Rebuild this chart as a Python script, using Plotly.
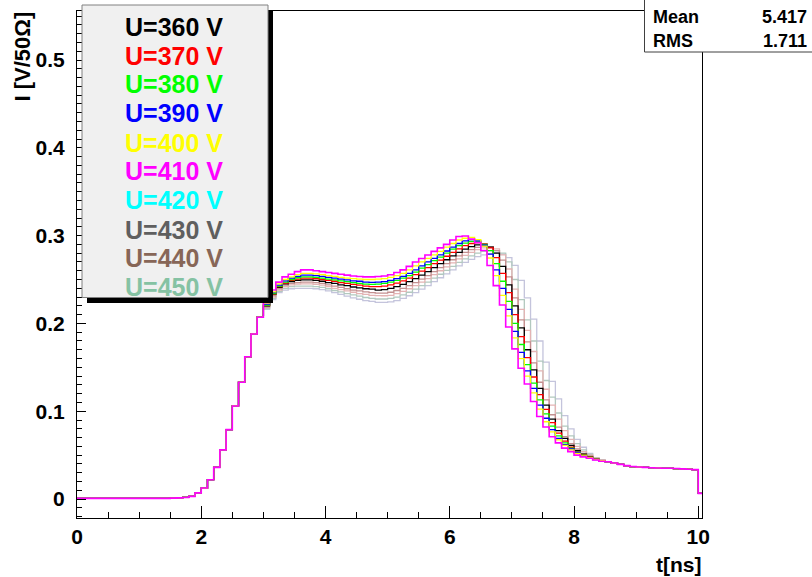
import numpy as np
import plotly.graph_objects as go

# ---------------- data ----------------
VOLTAGES = ["U=360 V", "U=370 V", "U=380 V", "U=390 V", "U=400 V",
            "U=410 V", "U=420 V", "U=430 V", "U=440 V", "U=450 V"]
LEGEND_COLORS = ["#000000", "#ff0000", "#00ff00", "#0000ff", "#ffff00",
                 "#ff00ff", "#00ffff", "#5f5f5f", "#876657", "#85c2a3"]
LINE_COLORS = ["#000000", "#ff0000", "#00ff00", "#0000ff", "#ffff00",
               "#ff00ff", "#c4c4dc", "#c39090", "#e4b4b4", "#b2c9bf"]

BIN_WIDTH = 0.1  # ns

# common rise, bins 0.0 .. 3.0 ns
RISE = [0.0008, 0.0008, 0.0008, 0.0008, 0.0008, 0.0008, 0.0008, 0.0008, 0.0008, 0.0008,
        0.0008, 0.0008, 0.0008, 0.0008, 0.0008, 0.0010, 0.0013, 0.0018, 0.003, 0.007,
        0.0125, 0.022, 0.036, 0.056, 0.079, 0.106, 0.133, 0.162, 0.188, 0.207]

# per-voltage values, bins 3.0 .. 8.5 ns
MID_360 = [0.220, 0.233, 0.241, 0.245, 0.2475, 0.249, 0.2495, 0.2495, 0.249, 0.248,
           0.2465, 0.2455, 0.244, 0.243, 0.2415, 0.2405, 0.2395, 0.239, 0.238, 0.2385,
           0.240, 0.242, 0.2445, 0.2475, 0.251, 0.255, 0.259, 0.2635, 0.268, 0.2725,
           0.277, 0.281, 0.2845, 0.2875, 0.2895, 0.290, 0.287, 0.280, 0.265, 0.244,
           0.220, 0.195, 0.170, 0.147, 0.126, 0.107, 0.091, 0.078, 0.069, 0.061,
           0.055, 0.051, 0.048, 0.0455, 0.0438]
MID_370 = [0.2205, 0.2335, 0.242, 0.246, 0.249, 0.2505, 0.2515, 0.2515, 0.251, 0.250,
           0.249, 0.248, 0.2465, 0.2455, 0.2445, 0.2435, 0.2425, 0.242, 0.2418, 0.2425,
           0.244, 0.246, 0.2485, 0.2515, 0.2555, 0.2595, 0.2635, 0.268, 0.272, 0.2765,
           0.281, 0.285, 0.2885, 0.291, 0.292, 0.2905, 0.286, 0.275, 0.257, 0.235,
           0.210, 0.185, 0.161, 0.139, 0.119, 0.102, 0.087, 0.075, 0.066, 0.059,
           0.054, 0.0505, 0.0478, 0.0455, 0.0437]
MID_380 = [0.221, 0.234, 0.2425, 0.247, 0.250, 0.252, 0.253, 0.253, 0.2525, 0.2515,
           0.2505, 0.2495, 0.2485, 0.2475, 0.2465, 0.2455, 0.2448, 0.2445, 0.2448, 0.2455,
           0.247, 0.249, 0.2515, 0.2545, 0.2585, 0.263, 0.267, 0.2715, 0.2755, 0.280,
           0.2845, 0.2885, 0.2915, 0.2935, 0.2935, 0.290, 0.283, 0.268, 0.248, 0.225,
           0.200, 0.176, 0.153, 0.132, 0.113, 0.097, 0.083, 0.072, 0.064, 0.058,
           0.0535, 0.050, 0.0475, 0.0452, 0.0436]
MID_390 = [0.222, 0.235, 0.2435, 0.2485, 0.2515, 0.2535, 0.255, 0.255, 0.2545, 0.2535,
           0.2525, 0.2515, 0.2505, 0.2495, 0.2485, 0.248, 0.247, 0.2468, 0.247, 0.2475,
           0.249, 0.251, 0.2535, 0.257, 0.261, 0.2655, 0.270, 0.274, 0.278, 0.2825,
           0.287, 0.291, 0.294, 0.2955, 0.294, 0.289, 0.279, 0.261, 0.240, 0.216,
           0.191, 0.167, 0.146, 0.126, 0.107, 0.092, 0.079, 0.069, 0.062, 0.057,
           0.053, 0.0495, 0.0472, 0.0450, 0.0435]
MID_400 = [0.223, 0.236, 0.245, 0.250, 0.253, 0.2555, 0.257, 0.257, 0.2565, 0.2555,
           0.2545, 0.2535, 0.2525, 0.2515, 0.251, 0.2505, 0.250, 0.250, 0.2505, 0.251,
           0.2525, 0.2545, 0.257, 0.261, 0.2655, 0.270, 0.274, 0.278, 0.282, 0.287,
           0.291, 0.295, 0.297, 0.298, 0.2955, 0.288, 0.2745, 0.2545, 0.232, 0.2085,
           0.1835, 0.160, 0.140, 0.121, 0.1025, 0.088, 0.0765, 0.0675, 0.061, 0.056,
           0.052, 0.049, 0.047, 0.0452, 0.0436]
MID_410 = [0.224, 0.238, 0.247, 0.253, 0.256, 0.259, 0.261, 0.261, 0.260, 0.259,
           0.258, 0.257, 0.256, 0.255, 0.254, 0.2535, 0.253, 0.253, 0.2535, 0.254,
           0.2555, 0.258, 0.261, 0.265, 0.270, 0.274, 0.278, 0.282, 0.286, 0.290,
           0.295, 0.299, 0.2995, 0.296, 0.292, 0.283, 0.266, 0.243, 0.221, 0.196,
           0.171, 0.149, 0.131, 0.111, 0.094, 0.082, 0.071, 0.064, 0.058, 0.054,
           0.050, 0.048, 0.0465, 0.0445, 0.043]
MID_420 = [0.216, 0.227, 0.235, 0.238, 0.2395, 0.240, 0.240, 0.240, 0.2395, 0.2385,
           0.237, 0.235, 0.233, 0.231, 0.229, 0.2275, 0.226, 0.225, 0.224, 0.224,
           0.2245, 0.226, 0.2285, 0.2315, 0.235, 0.239, 0.243, 0.2475, 0.252, 0.2565,
           0.261, 0.2655, 0.2695, 0.273, 0.276, 0.278, 0.2795, 0.2805, 0.279, 0.275,
           0.266, 0.249, 0.229, 0.205, 0.180, 0.156, 0.134, 0.114, 0.095, 0.080,
           0.068, 0.059, 0.052, 0.047, 0.0445]
MID_430 = [0.219, 0.2315, 0.2395, 0.2435, 0.2455, 0.2465, 0.247, 0.247, 0.2465, 0.2455,
           0.244, 0.2425, 0.241, 0.2395, 0.238, 0.237, 0.236, 0.235, 0.2345, 0.2345,
           0.2355, 0.2375, 0.240, 0.243, 0.2465, 0.2505, 0.2545, 0.259, 0.2635, 0.268,
           0.2725, 0.277, 0.281, 0.284, 0.2865, 0.288, 0.2875, 0.283, 0.272, 0.253,
           0.229, 0.204, 0.179, 0.155, 0.133, 0.113, 0.096, 0.082, 0.071, 0.063,
           0.057, 0.052, 0.049, 0.046, 0.0440]
MID_440 = [0.218, 0.230, 0.238, 0.242, 0.244, 0.2448, 0.245, 0.245, 0.2445, 0.2435,
           0.242, 0.240, 0.2385, 0.237, 0.2355, 0.234, 0.233, 0.232, 0.2316, 0.2315,
           0.232, 0.234, 0.2365, 0.2395, 0.243, 0.247, 0.251, 0.2555, 0.260, 0.2645,
           0.269, 0.2735, 0.2775, 0.281, 0.284, 0.286, 0.2865, 0.285, 0.278, 0.262,
           0.239, 0.216, 0.192, 0.168, 0.146, 0.125, 0.107, 0.091, 0.078, 0.068,
           0.060, 0.054, 0.050, 0.0465, 0.0442]
MID_450 = [0.217, 0.2285, 0.2365, 0.240, 0.242, 0.2425, 0.2425, 0.2425, 0.242, 0.241,
           0.2395, 0.2375, 0.236, 0.234, 0.2325, 0.231, 0.2295, 0.2285, 0.2278, 0.2278,
           0.2285, 0.230, 0.2325, 0.2355, 0.239, 0.243, 0.247, 0.2515, 0.256, 0.2605,
           0.265, 0.2695, 0.2735, 0.277, 0.280, 0.282, 0.283, 0.283, 0.280, 0.270,
           0.250, 0.227, 0.204, 0.180, 0.157, 0.135, 0.116, 0.098, 0.083, 0.072,
           0.063, 0.056, 0.051, 0.047, 0.0444]

# common tail, bins 8.5 .. 10.1 ns
TAIL = [0.0425, 0.041, 0.0395, 0.038, 0.037, 0.0365, 0.036, 0.0357, 0.0354, 0.035,
        0.035, 0.0347, 0.0343, 0.034, 0.0335, 0.0065]

MIDS = [MID_360, MID_370, MID_380, MID_390, MID_400,
        MID_410, MID_420, MID_430, MID_440, MID_450]

STATS_LABELS = ["Mean", "RMS"]
STATS_VALUES = ["5.417", "1.711"]

X_TICKS = [0, 2, 4, 6, 8, 10]
Y_TICKS = [0, 0.1, 0.2, 0.3, 0.4, 0.5]

# ---------------- figure ----------------
W, H = 812, 577
L, R, T, B = 77, 110, 11, 59
PW, PH = W - L - R, H - T - B


def px_x(px):
    return (px - L) / PW


def px_y(py):
    return (H - B - py) / PH


fig = go.Figure()

draw_order = [6, 9, 8, 7, 0, 1, 2, 3, 4, 5]
for k in draw_order:
    vals = RISE + MIDS[k] + TAIL
    n = len(vals)
    edges = np.round(np.arange(n + 1) * BIN_WIDTH, 3)
    yv = vals + [vals[-1]]
    fig.add_trace(go.Scatter(
        x=edges, y=yv, mode="lines", line_shape="hv",
        line=dict(color=LINE_COLORS[k], width=1.3 if k != 5 else 1.6),
        showlegend=False, hoverinfo="skip"))

FONT = "Liberation Sans, Arial, sans-serif"

fig.update_layout(
    width=W, height=H,
    margin=dict(l=L, r=R, t=T, b=B),
    paper_bgcolor="white", plot_bgcolor="white",
    showlegend=False,
    font=dict(family=FONT, color="black"),
    xaxis=dict(range=[0, 10.06], tickvals=X_TICKS, ticktext=[str(v) for v in X_TICKS],
               ticks="inside", ticklen=12, tickwidth=1, tickcolor="black",
               minor=dict(dtick=0.5, ticks="inside", ticklen=6, tickcolor="black"),
               showline=True, linecolor="black", linewidth=1, mirror=True,
               showgrid=False, zeroline=False,
               tickfont=dict(size=21, family=FONT, weight=700),
               ticklabelstandoff=0),
    yaxis=dict(range=[-0.0216, 0.5558], tickvals=Y_TICKS,
               ticktext=["0", "0.1", "0.2", "0.3", "0.4", "0.5"],
               ticks="inside", ticklen=9, tickwidth=1, tickcolor="black",
               minor=dict(dtick=0.01, ticks="inside", ticklen=4.5, tickcolor="black"),
               showline=True, linecolor="black", linewidth=1, mirror=True,
               showgrid=False, zeroline=False,
               tickfont=dict(size=21, family=FONT, weight=700),
               ticklabelstandoff=7),
)

shapes = []
# legend shadow + box
shapes.append(dict(type="rect", xref="paper", yref="paper",
                   x0=px_x(87), x1=px_x(273), y0=px_y(303), y1=px_y(11),
                   fillcolor="black", line=dict(width=0), layer="above"))
shapes.append(dict(type="rect", xref="paper", yref="paper",
                   x0=px_x(82), x1=px_x(268), y0=px_y(297.5), y1=px_y(5),
                   fillcolor="#f0f0f0", line=dict(color="#808080", width=1), layer="above"))
# stats box
shapes.append(dict(type="rect", xref="paper", yref="paper",
                   x0=px_x(644.5), x1=px_x(815), y0=px_y(52), y1=px_y(-3),
                   fillcolor="white", line=dict(color="#404040", width=1), layer="above"))
fig.update_layout(shapes=shapes)

ann = []
LEG_Y = [27, 55.5, 84, 113, 142.5, 171.5, 200, 229.5, 258, 287]
for k in range(10):
    ann.append(dict(xref="paper", yref="paper", x=px_x(174), y=px_y(LEG_Y[k]),
                    text=VOLTAGES[k], showarrow=False, xanchor="center", yanchor="middle",
                    font=dict(size=25, family=FONT, weight=700, color=LEGEND_COLORS[k])))
STAT_Y = [16.5, 41]
for i in range(2):
    ann.append(dict(xref="paper", yref="paper", x=px_x(651), y=px_y(STAT_Y[i]),
                    text=STATS_LABELS[i], showarrow=False, xanchor="left", yanchor="middle",
                    font=dict(size=18, family=FONT, weight=700)))
    ann.append(dict(xref="paper", yref="paper", x=px_x(809), y=px_y(STAT_Y[i]),
                    text=STATS_VALUES[i], showarrow=False, xanchor="right", yanchor="middle",
                    font=dict(size=18, family=FONT, weight=700)))
# axis titles
ann.append(dict(xref="paper", yref="paper", x=px_x(704), y=px_y(564),
                text="t[ns]", showarrow=False, xanchor="right", yanchor="middle",
                font=dict(size=21, family=FONT, weight=700)))
ann.append(dict(xref="paper", yref="paper", x=px_x(22.5), y=px_y(10),
                text="I [V/50Ω]", showarrow=False, textangle=-90,
                xanchor="center", yanchor="top",
                font=dict(size=22, family=FONT, weight=700)))
fig.update_layout(annotations=ann)

fig.write_html("out.html")
